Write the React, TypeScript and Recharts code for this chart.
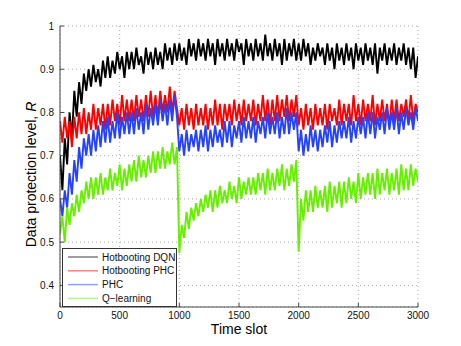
import { LineChart, Line, XAxis, YAxis, CartesianGrid, Legend } from "recharts";

// sampled every 20 time slots (0 .. 3000)
const SLOT_STEP = 20;

const hotbootingDqn = [
  0.70, 0.62, 0.74, 0.68, 0.80, 0.74, 0.85, 0.79, 0.87, 0.82,
  0.89, 0.85, 0.90, 0.86, 0.91, 0.87, 0.90, 0.86, 0.92, 0.88,
  0.93, 0.88, 0.92, 0.89, 0.94, 0.90, 0.93, 0.88, 0.94, 0.90,
  0.94, 0.90, 0.95, 0.91, 0.93, 0.89, 0.95, 0.91, 0.94, 0.90,
  0.95, 0.91, 0.94, 0.90, 0.96, 0.92, 0.95, 0.91, 0.96, 0.92,
  0.96, 0.92, 0.95, 0.91, 0.97, 0.93, 0.96, 0.92, 0.97, 0.93,
  0.96, 0.92, 0.97, 0.93, 0.96, 0.91, 0.97, 0.93, 0.96, 0.92,
  0.97, 0.93, 0.96, 0.92, 0.97, 0.94, 0.96, 0.91, 0.97, 0.93,
  0.96, 0.92, 0.97, 0.93, 0.96, 0.92, 0.98, 0.93, 0.96, 0.92,
  0.97, 0.93, 0.96, 0.91, 0.97, 0.92, 0.96, 0.93, 0.97, 0.92,
  0.96, 0.92, 0.97, 0.93, 0.96, 0.91, 0.95, 0.92, 0.96, 0.93,
  0.95, 0.91, 0.96, 0.92, 0.95, 0.90, 0.96, 0.92, 0.95, 0.91,
  0.96, 0.92, 0.95, 0.90, 0.96, 0.92, 0.95, 0.91, 0.96, 0.92,
  0.95, 0.91, 0.96, 0.89, 0.95, 0.92, 0.96, 0.91, 0.95, 0.92,
  0.96, 0.91, 0.95, 0.92, 0.96, 0.91, 0.95, 0.90, 0.95, 0.88,
  0.93,
];

const hotbootingPhc = [
  0.78, 0.73, 0.79, 0.74, 0.78, 0.72, 0.79, 0.74, 0.80, 0.75,
  0.81, 0.75, 0.80, 0.76, 0.82, 0.76, 0.81, 0.77, 0.82, 0.76,
  0.82, 0.77, 0.83, 0.78, 0.82, 0.77, 0.84, 0.78, 0.83, 0.78,
  0.83, 0.78, 0.84, 0.79, 0.83, 0.78, 0.84, 0.79, 0.85, 0.79,
  0.84, 0.79, 0.85, 0.80, 0.84, 0.80, 0.86, 0.80, 0.85, 0.81,
  0.77, 0.81, 0.76, 0.82, 0.77, 0.81, 0.76, 0.82, 0.77, 0.81,
  0.77, 0.82, 0.76, 0.81, 0.77, 0.83, 0.77, 0.82, 0.76, 0.82,
  0.78, 0.82, 0.77, 0.83, 0.78, 0.82, 0.77, 0.83, 0.78, 0.82,
  0.78, 0.83, 0.77, 0.82, 0.78, 0.84, 0.78, 0.83, 0.77, 0.83,
  0.78, 0.84, 0.78, 0.83, 0.79, 0.84, 0.78, 0.83, 0.79, 0.84,
  0.77, 0.81, 0.76, 0.82, 0.77, 0.81, 0.76, 0.82, 0.77, 0.81,
  0.77, 0.82, 0.76, 0.82, 0.78, 0.81, 0.77, 0.83, 0.77, 0.82,
  0.78, 0.82, 0.77, 0.84, 0.78, 0.82, 0.77, 0.83, 0.78, 0.82,
  0.78, 0.84, 0.77, 0.82, 0.78, 0.83, 0.78, 0.82, 0.77, 0.83,
  0.78, 0.83, 0.78, 0.82, 0.79, 0.83, 0.78, 0.84, 0.78, 0.82,
  0.80,
];

const phc = [
  0.60, 0.56, 0.62, 0.58, 0.66, 0.61, 0.69, 0.64, 0.72, 0.67,
  0.74, 0.70, 0.75, 0.70, 0.76, 0.71, 0.77, 0.72, 0.78, 0.73,
  0.79, 0.73, 0.78, 0.74, 0.80, 0.74, 0.79, 0.75, 0.80, 0.75,
  0.80, 0.75, 0.81, 0.76, 0.80, 0.75, 0.82, 0.76, 0.81, 0.77,
  0.82, 0.77, 0.83, 0.78, 0.82, 0.77, 0.83, 0.78, 0.84, 0.79,
  0.71, 0.75, 0.70, 0.76, 0.71, 0.75, 0.72, 0.76, 0.71, 0.76,
  0.72, 0.77, 0.71, 0.76, 0.72, 0.77, 0.73, 0.76, 0.72, 0.78,
  0.73, 0.78, 0.72, 0.77, 0.74, 0.78, 0.73, 0.79, 0.74, 0.78,
  0.74, 0.79, 0.73, 0.78, 0.75, 0.79, 0.74, 0.80, 0.75, 0.79,
  0.75, 0.80, 0.74, 0.79, 0.75, 0.81, 0.75, 0.80, 0.76, 0.80,
  0.71, 0.76, 0.70, 0.75, 0.71, 0.77, 0.72, 0.76, 0.71, 0.76,
  0.72, 0.77, 0.73, 0.78, 0.72, 0.77, 0.73, 0.78, 0.74, 0.78,
  0.74, 0.79, 0.73, 0.78, 0.74, 0.79, 0.75, 0.79, 0.74, 0.80,
  0.75, 0.80, 0.74, 0.79, 0.76, 0.80, 0.75, 0.81, 0.76, 0.80,
  0.76, 0.81, 0.75, 0.80, 0.76, 0.81, 0.77, 0.80, 0.76, 0.81,
  0.78,
];

const qLearning = [
  0.52, 0.56, 0.50, 0.58, 0.54, 0.59, 0.56, 0.61, 0.57, 0.62,
  0.59, 0.64, 0.60, 0.65, 0.60, 0.65, 0.61, 0.66, 0.61, 0.65,
  0.62, 0.67, 0.62, 0.66, 0.63, 0.68, 0.62, 0.67, 0.63, 0.68,
  0.64, 0.69, 0.64, 0.70, 0.65, 0.69, 0.65, 0.70, 0.66, 0.71,
  0.66, 0.71, 0.67, 0.72, 0.67, 0.71, 0.68, 0.73, 0.68, 0.72,
  0.475, 0.54, 0.51, 0.57, 0.53, 0.58, 0.55, 0.59, 0.56, 0.60,
  0.57, 0.61, 0.58, 0.62, 0.57, 0.62, 0.58, 0.63, 0.59, 0.62,
  0.59, 0.64, 0.60, 0.63, 0.59, 0.65, 0.60, 0.64, 0.61, 0.65,
  0.61, 0.65, 0.61, 0.66, 0.62, 0.66, 0.61, 0.67, 0.62, 0.66,
  0.62, 0.67, 0.63, 0.68, 0.62, 0.67, 0.63, 0.68, 0.64, 0.69,
  0.478, 0.60, 0.55, 0.62, 0.57, 0.62, 0.57, 0.63, 0.58, 0.62,
  0.58, 0.63, 0.57, 0.64, 0.58, 0.63, 0.59, 0.64, 0.58, 0.64,
  0.59, 0.65, 0.60, 0.64, 0.59, 0.66, 0.60, 0.65, 0.61, 0.66,
  0.61, 0.66, 0.60, 0.67, 0.61, 0.66, 0.62, 0.67, 0.61, 0.66,
  0.62, 0.67, 0.61, 0.68, 0.62, 0.67, 0.62, 0.68, 0.63, 0.67,
  0.64,
];

const xTicks = [0, 500, 1000, 1500, 2000, 2500, 3000];
const yTicks = [0.4, 0.5, 0.6, 0.7, 0.8, 0.9, 1];

const series = [
  { key: "dqn", name: "Hotbooting DQN", color: "#000000" },
  { key: "hphc", name: "Hotbooting PHC", color: "#ff0000" },
  { key: "phc", name: "PHC", color: "#2442ff" },
  { key: "q", name: "Q\u2212learning", color: "#66f000" },
];

const data = hotbootingDqn.map((v, i) => ({
  t: i * SLOT_STEP,
  dqn: v,
  hphc: hotbootingPhc[i],
  phc: phc[i],
  q: qLearning[i],
}));

const FONT = "'Liberation Sans', Arial, Helvetica, sans-serif";
const AXIS = "#444";

function LegendBox() {
  return (
    <svg width={115} height={59} style={{ display: "block" }}>
      <rect x={0.5} y={0.5} width={114} height={58} fill="#fff" stroke="#333" />
      {series.map((s, i) => (
        <g key={s.key}>
          <line x1={6} x2={36} y1={9 + i * 13.8} y2={9 + i * 13.8} stroke={s.color} strokeOpacity={0.5} strokeWidth={1.5} />
          <text x={40} y={9 + i * 13.8} dy="0.35em" fontSize={10} fontFamily={FONT} fill="#111">
            {s.name}
          </text>
        </g>
      ))}
    </svg>
  );
}

function YLabel(props: any) {
  const { viewBox } = props;
  const cx = viewBox.x + 31;
  const cy = viewBox.y + viewBox.height / 2 + 8;
  return (
    <text x={cx} y={cy} transform={`rotate(-90, ${cx}, ${cy})`} textAnchor="middle" dominantBaseline="central" fontSize={14} fontFamily={FONT} fill="#000">
      Data protection level,{"  "}
      <tspan fontStyle="italic">R</tspan>
    </text>
  );
}

export default function App() {
  return (
    <div style={{ position: "absolute", left: 0, top: 0, width: 461, height: 346, background: "#fff" }}>
      <LineChart width={461} height={346} data={data} margin={{ top: 26, right: 43, left: 0, bottom: 0 }}>
        <CartesianGrid stroke="#aaa" strokeDasharray="1 3" />
        <XAxis
          dataKey="t"
          type="number"
          domain={[0, 3000]}
          ticks={xTicks}
          allowDataOverflow
          height={39}
          stroke={AXIS}
          tickSize={-4}
          tickMargin={9}
          tick={{ fontSize: 10, fontFamily: FONT, fill: "#111" }}
          label={{ value: "Time slot", position: "insideBottom", offset: 12, fontSize: 14, fontFamily: FONT, fill: "#000" }}
        />
        <XAxis
          xAxisId="top"
          dataKey="t"
          type="number"
          orientation="top"
          domain={[0, 3000]}
          ticks={xTicks}
          allowDataOverflow
          height={0}
          stroke={AXIS}
          tickSize={-4}
          tick={() => <g />}
        />
        <YAxis
          type="number"
          domain={[0.35, 1]}
          ticks={yTicks}
          allowDataOverflow
          width={60}
          stroke={AXIS}
          tickSize={-4}
          tickMargin={10}
          tickFormatter={(v: number) => String(v)}
          tick={{ fontSize: 10, fontFamily: FONT, fill: "#111" }}
          label={<YLabel />}
        />
        <YAxis
          yAxisId="right"
          orientation="right"
          type="number"
          domain={[0.35, 1]}
          ticks={yTicks}
          allowDataOverflow
          width={0}
          stroke={AXIS}
          tickSize={-4}
          tick={() => <g />}
        />
        {series.map((s) => (
          <Line
            key={s.key}
            dataKey={s.key}
            name={s.name}
            stroke={s.color}
            strokeWidth={1.9}
            strokeLinejoin="miter"
            dot={false}
            activeDot={false}
            isAnimationActive={false}
          />
        ))}
        <Legend
          layout="horizontal"
          verticalAlign="middle"
          align="center"
          wrapperStyle={{ left: 62, top: 248, width: 115, height: 59 }}
          content={() => <LegendBox />}
        />
      </LineChart>
    </div>
  );
}
